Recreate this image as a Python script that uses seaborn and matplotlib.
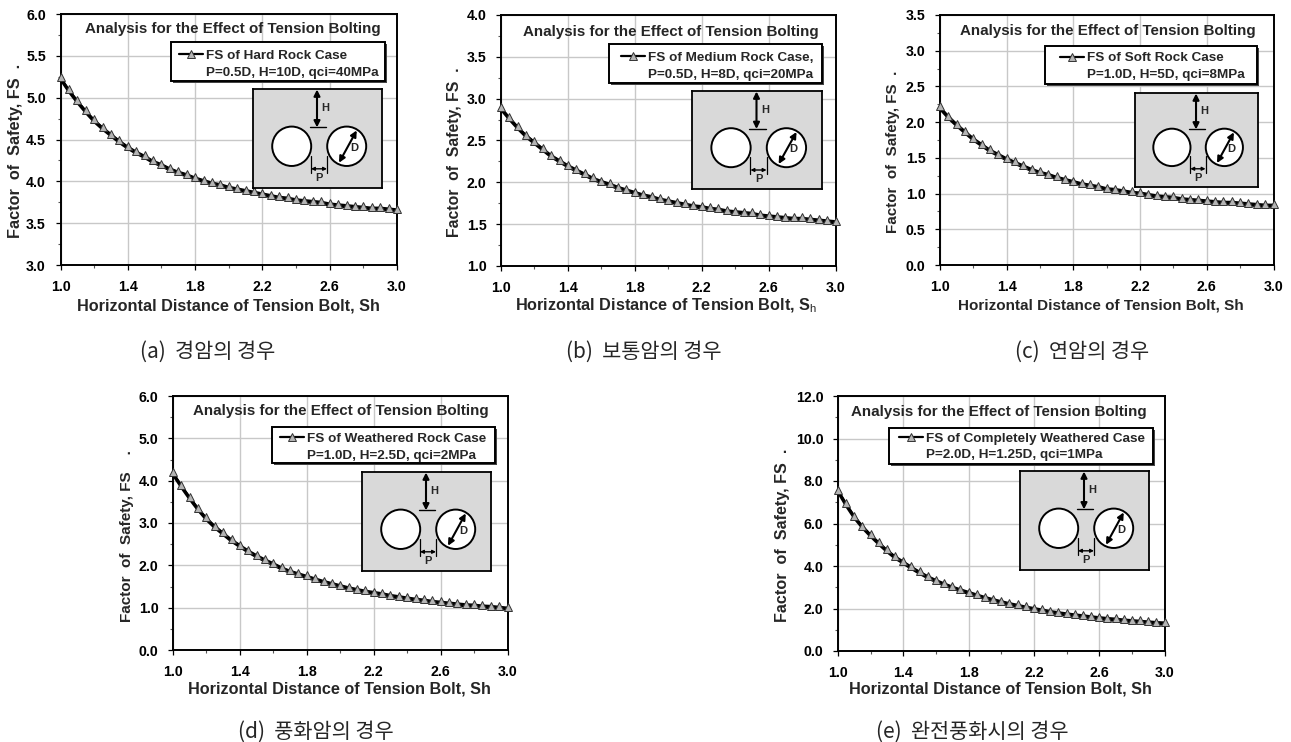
import numpy as np
import seaborn as sns
from matplotlib import pyplot as plt
from matplotlib.lines import Line2D
from matplotlib.patches import Circle, Rectangle
from matplotlib.transforms import ScaledTranslation

# Sh, 41 points
sh = [1.0 + 0.05 * i for i in range(41)]

fs_hard = [5.25, 5.10, 4.97, 4.85, 4.74, 4.65, 4.57, 4.49, 4.42, 4.36, 4.31, 4.25, 4.21, 4.16,
           4.12, 4.09, 4.05, 4.02, 3.99, 3.97, 3.94, 3.92, 3.90, 3.88, 3.86, 3.84, 3.82, 3.81,
           3.79, 3.78, 3.77, 3.76, 3.74, 3.73, 3.72, 3.71, 3.70, 3.69, 3.69, 3.68, 3.67]
fs_medium = [2.90, 2.78, 2.67, 2.57, 2.49, 2.41, 2.33, 2.27, 2.21, 2.16, 2.11, 2.06, 2.02, 1.99,
             1.95, 1.92, 1.89, 1.86, 1.84, 1.81, 1.79, 1.77, 1.75, 1.73, 1.72, 1.70, 1.69, 1.67,
             1.66, 1.65, 1.64, 1.62, 1.61, 1.60, 1.59, 1.58, 1.58, 1.57, 1.56, 1.55, 1.54]
fs_soft = [2.22, 2.09, 1.98, 1.88, 1.78, 1.70, 1.62, 1.56, 1.50, 1.45, 1.40, 1.35, 1.31, 1.28,
           1.24, 1.21, 1.18, 1.15, 1.13, 1.11, 1.08, 1.07, 1.05, 1.03, 1.02, 1.00, 0.98, 0.97,
           0.96, 0.94, 0.93, 0.92, 0.91, 0.90, 0.89, 0.89, 0.88, 0.87, 0.86, 0.85, 0.85]
fs_weathered = [4.20, 3.90, 3.62, 3.36, 3.13, 2.94, 2.78, 2.62, 2.49, 2.36, 2.25, 2.15, 2.06, 1.96,
                1.88, 1.82, 1.76, 1.70, 1.64, 1.59, 1.54, 1.49, 1.45, 1.41, 1.38, 1.35, 1.31, 1.28,
                1.25, 1.22, 1.20, 1.17, 1.15, 1.13, 1.11, 1.09, 1.08, 1.06, 1.05, 1.03, 1.01]
fs_complete = [7.60, 6.95, 6.37, 5.90, 5.50, 5.13, 4.78, 4.47, 4.23, 3.98, 3.75, 3.54, 3.36, 3.20,
               3.05, 2.92, 2.80, 2.68, 2.56, 2.46, 2.36, 2.27, 2.19, 2.11, 2.04, 1.97, 1.90, 1.84,
               1.79, 1.74, 1.70, 1.65, 1.61, 1.57, 1.54, 1.50, 1.47, 1.44, 1.41, 1.38, 1.36]
series = [fs_hard, fs_medium, fs_soft, fs_weathered, fs_complete]

y_limits = [(3.0, 6.0), (1.0, 4.0), (0.0, 3.5), (0.0, 6.0), (0.0, 12.0)]
y_steps = [0.5, 0.5, 0.5, 1.0, 2.0]
x_ticks = [1.0, 1.4, 1.8, 2.2, 2.6, 3.0]

legend_first = ["FS of Hard Rock Case", "FS of Medium Rock Case,", "FS of Soft Rock Case",
                "FS of Weathered Rock Case", "FS of Completely Weathered Case"]
legend_second = ["P=0.5D, H=10D, qci=40MPa", "P=0.5D, H=8D, qci=20MPa", "P=1.0D, H=5D, qci=8MPa",
                 "P=1.0D, H=2.5D, qci=2MPa", "P=2.0D, H=1.25D, qci=1MPa"]
x_labels = ["Horizontal Distance of Tension Bolt, Sh", "Horizontal Distance of Tension Bolt, S$_{\\mathrm{h}}$",
            "Horizontal Distance of Tension Bolt, Sh", "Horizontal Distance of Tension Bolt, Sh",
            "Horizontal Distance of Tension Bolt, Sh"]
y_labels = ["Factor  of  Safety, FS  .", "Factor  of  Safety, FS  .", "Factor  of  Safety, FS  .",
            "Factor  of  Safety, FS    .", "Factor  of  Safety, FS  ."]
captions = ["(a)  경암의 경우", "(b)  보통암의 경우", "(c)  연암의 경우", "(d)  풍화암의 경우", "(e)  완전풍화시의 경우"]

# layout, in pixels from the top left of the picture
W, H = 1291, 742
axes_px = [(60.5, 14, 397, 265), (501, 15, 835.5, 266), (940, 15, 1273.5, 265),
           (173, 396, 507.5, 650), (838, 396, 1164.5, 651)]
inset_px = [(253, 89, 382, 188), (692, 91, 822, 189), (1135, 93, 1258, 187),
            (362, 472, 491, 571), (1020, 471, 1149, 570)]
legend_box_px = [(171, 42, 385, 81), (609, 44, 822, 83), (1045, 46, 1257, 84),
                 (272, 427, 495, 463), (889, 428, 1153, 464)]
handle_left_px = [179, 621, 1060, 280, 899]
legend_top_gap = [7.7, 7.7, 6, 5.7, 4.5]
title_xy = [(232.5, 29), (670.5, 32), (1107.5, 31), (341, 411), (999, 412)]
ylabel_xy = [(16, 151), (454, 152), (893, 152), (127, 536), (783, 535)]
ylabel_size = [11.7, 11.3, 10.9, 11.0, 11.6]
xlabel_xy = [(228, 306), (666, 306), (1100.5, 306), (339, 689), (1000, 689)]
xlabel_size = [11.7, 11.7, 11.0, 11.7, 11.7]
caption_xy = [(207.5, 352), (644, 352), (1082, 352), (316, 731.5), (972.5, 731.5)]

MARKER_FILL = "#b4b4b4"
MARKER_EDGE = "#333333"


def fig_x(px):
    return px / W


def fig_y(px):
    return 1 - px / H


def draw_sketch(fig, box):
    # tunnel sketch, drawn in its own 129 x 98 box
    left, top, right, bottom = box
    ax = fig.add_axes([fig_x(left), fig_y(bottom), (right - left) / W, (bottom - top) / H], zorder=5)
    ax.set_xlim(0, 129)
    ax.set_ylim(98, 0)
    ax.set_xticks([])
    ax.set_yticks([])
    ax.set_facecolor("#d9d9d9")
    for spine in ax.spines.values():
        spine.set_visible(True)
        spine.set_linewidth(1.3)
        spine.set_color("black")
    for cx in [38.7, 93.7]:
        ax.add_patch(Circle((cx, 56.7), 19.5, facecolor="white", edgecolor="black", lw=1.4))
    arrow = dict(arrowstyle="<|-|>", color="black", lw=1.5, shrinkA=0, shrinkB=0, mutation_scale=9)
    small = dict(arrowstyle="<|-|>", color="black", lw=1, shrinkA=0, shrinkB=0, mutation_scale=5)
    ax.annotate("", xy=(64, 0.5), xytext=(64, 38), arrowprops=arrow)
    ax.annotate("", xy=(86, 73), xytext=(103.7, 41), arrowprops=arrow)
    ax.annotate("", xy=(58, 79), xytext=(74, 79), arrowprops=small)
    ax.plot([57, 73], [38, 38], color="black", lw=1)
    ax.plot([58, 58], [66, 83], color="black", lw=0.9)
    ax.plot([74, 74], [66, 83], color="black", lw=0.9)
    for s, x, y in [("H", 72.5, 19), ("P", 66, 88.5), ("D", 101, 58)]:
        ax.text(x, y, s, fontsize=8, fontweight="bold", ha="center", va="center")


sns.set_style("white")
plt.rcParams["font.family"] = ["Liberation Sans", "DejaVu Sans"]
plt.rcParams["mathtext.fontset"] = "custom"
plt.rcParams["mathtext.rm"] = "Liberation Sans"

fig = plt.figure(figsize=(W / 100, H / 100), dpi=100, facecolor="white")

for i, fs in enumerate(series):
    left, top, right, bottom = axes_px[i]
    ax = fig.add_axes([fig_x(left), fig_y(bottom), (right - left) / W, (bottom - top) / H])

    # heavy black line sits a little under the triangles
    low = ax.transData + ScaledTranslation(0, -1.8 / 100, fig.dpi_scale_trans)
    sns.lineplot(x=sh, y=fs, ax=ax, color="black", lw=2.5, clip_on=False, zorder=3, errorbar=None, transform=low)
    sns.lineplot(x=sh, y=fs, ax=ax, color="black", lw=1, marker="^", markersize=6.2,
                 markerfacecolor=MARKER_FILL, markeredgecolor=MARKER_EDGE, markeredgewidth=0.7,
                 clip_on=False, zorder=4, errorbar=None)

    y_lo, y_hi = y_limits[i]
    y_major = np.arange(y_lo, y_hi + 0.001, y_steps[i])
    ax.set_xlim(1.0, 3.0)
    ax.set_ylim(y_lo, y_hi)
    ax.set_xticks(x_ticks)
    ax.set_xticklabels([f"{t:.1f}" for t in x_ticks])
    ax.set_xticks([1.2, 1.6, 2.0, 2.4, 2.8], minor=True)
    ax.set_yticks(y_major)
    ax.set_yticklabels([f"{t:.1f}" for t in y_major])
    ax.set_yticks(y_major[:-1] + y_steps[i] / 2, minor=True)
    ax.grid(True, which="major", color="#c8c8c8", lw=1)
    ax.set_axisbelow(True)
    ax.tick_params(which="major", direction="out", length=3.5, width=0.9, color="black", bottom=True,
                   left=True, labelsize=10.2, pad=7, labelcolor="black")
    ax.tick_params(which="minor", direction="out", length=2.5, width=0.8, color="#555555", bottom=True, left=True)
    for label in ax.get_xticklabels() + ax.get_yticklabels():
        label.set_fontweight("bold")
    for spine in ax.spines.values():
        spine.set_visible(True)
        spine.set_color("black")
        spine.set_linewidth(1.4)

    # legend box and its shadow
    bx0, by0, bx1, by1 = legend_box_px[i]
    shadow = Rectangle((fig_x(bx0 + 2), fig_y(by1 + 2)), (bx1 - bx0) / W, (by1 - by0) / H, transform=fig.transFigure,
                       facecolor="#444444", edgecolor="none", clip_on=False, zorder=5)
    frame = Rectangle((fig_x(bx0), fig_y(by1)), (bx1 - bx0) / W, (by1 - by0) / H, transform=fig.transFigure,
                      facecolor="white", edgecolor="black", lw=1.4, clip_on=False, zorder=5.1)
    ax.add_patch(shadow)
    ax.add_patch(frame)

    handles = [Line2D([], [], color="black", lw=1.6, marker="^", markersize=5.5,
                      markerfacecolor=MARKER_FILL, markeredgecolor=MARKER_EDGE, markeredgewidth=0.7),
               Line2D([], [], color="none")]
    leg = ax.legend(handles, [legend_first[i], legend_second[i]], loc="upper left",
                    bbox_to_anchor=(fig_x(handle_left_px[i]), fig_y(by0 + legend_top_gap[i])), bbox_transform=fig.transFigure,
                    borderaxespad=0, borderpad=0, labelspacing=0.3, handlelength=1.8,
                    handletextpad=0.22, frameon=False, prop={"size": 9.7, "weight": "bold"})
    leg.set_zorder(6)

    draw_sketch(fig, inset_px[i])

    fig.text(fig_x(title_xy[i][0]), fig_y(title_xy[i][1]), "Analysis for the Effect of Tension Bolting",
             fontsize=10.9, fontweight="bold", ha="center", va="center", zorder=7)
    fig.text(fig_x(xlabel_xy[i][0]), fig_y(xlabel_xy[i][1]), x_labels[i],
             fontsize=xlabel_size[i], fontweight="bold", ha="center", va="center")
    fig.text(fig_x(ylabel_xy[i][0]), fig_y(ylabel_xy[i][1]), y_labels[i],
             fontsize=ylabel_size[i], fontweight="bold", ha="center", va="center", rotation=90)
    fig.text(fig_x(caption_xy[i][0]), fig_y(caption_xy[i][1]), captions[i],
             fontsize=15, family=["Noto Sans CJK KR", "DejaVu Sans"], ha="center", va="center")

fig.savefig("out.png", dpi=100)
